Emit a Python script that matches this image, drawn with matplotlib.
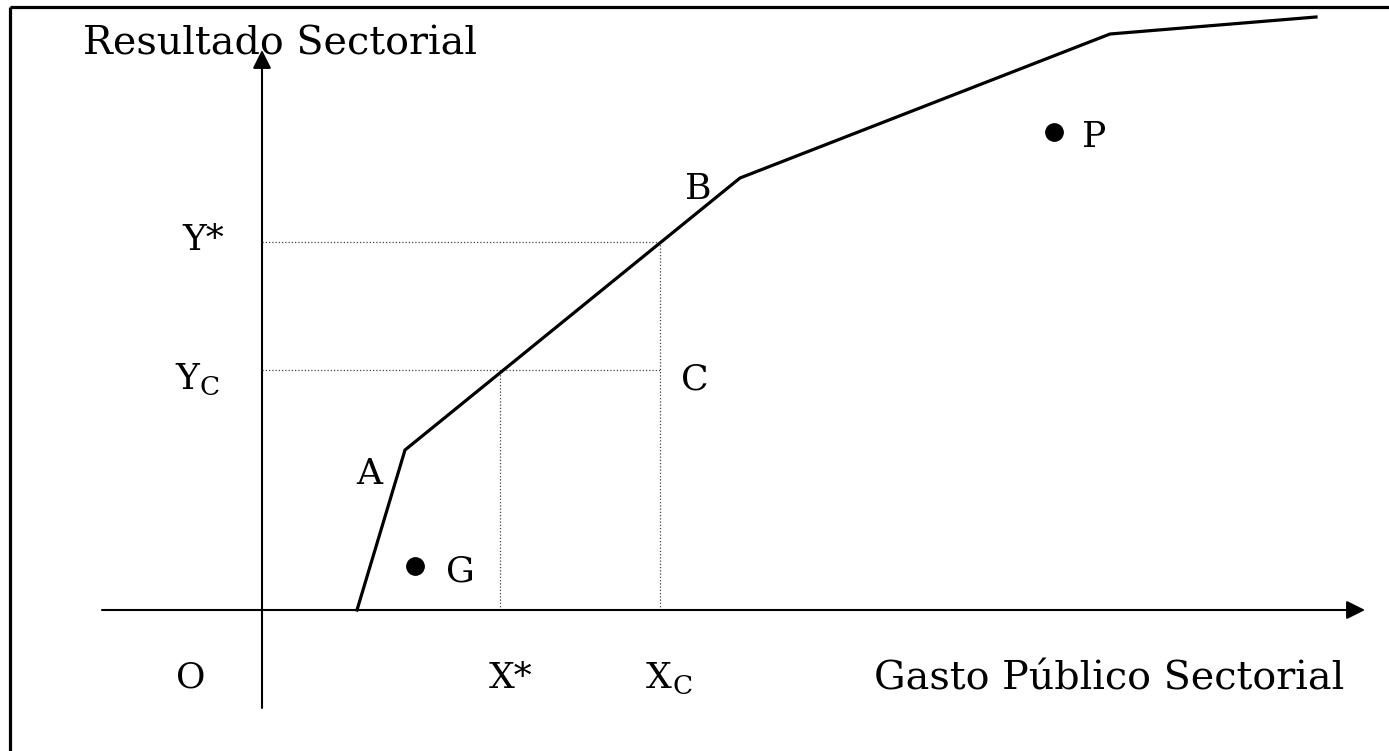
import matplotlib
matplotlib.use("Agg")
import matplotlib.pyplot as plt
from matplotlib.lines import Line2D

# ---- diagram data (origin at axis intersection, arbitrary units) ----
curve_x = [95, 143, 478, 848, 1054]
curve_y = [0, 160, 432, 576, 593]

x_star, x_c = 238, 398
y_star, y_c = 368, 240

point_G = (153, 44)
point_P = (792, 478)

x_axis_range = (-160, 1103)
y_axis_range = (-98, 560)

FONT = ["DejaVu Serif"]
FS = 26
FS_LONG = 28.5
SUB = 19

fig = plt.figure(figsize=(13.89, 7.51), dpi=100)
ax = fig.add_axes([0, 0, 1, 1])
ax.set_xlim(-262, 1389 - 262)
ax.set_ylim(610 - 751, 610)
ax.axis("off")

# frame (top and left border)
fig.add_artist(Line2D([10 / 1389, 1.0], [1 - 7 / 751, 1 - 7 / 751], color="black", lw=2.3,
                      transform=fig.transFigure, solid_capstyle="butt"))
fig.add_artist(Line2D([10 / 1389, 10 / 1389], [0.0, 1 - 7 / 751], color="black", lw=2.3,
                      transform=fig.transFigure, solid_capstyle="butt"))

# axes with arrows
arrow_kw = dict(arrowstyle="-|>", color="black", lw=1.5, mutation_scale=28,
                shrinkA=0, shrinkB=0)
ax.annotate("", xy=(x_axis_range[1], 0), xytext=(x_axis_range[0], 0), arrowprops=arrow_kw)
ax.annotate("", xy=(0, y_axis_range[1]), xytext=(0, y_axis_range[0]), arrowprops=arrow_kw)

# dotted guide lines
dot_kw = dict(color="#444444", lw=0.9, linestyle=(0, (1, 1.6)))
ax.plot([0, x_c], [y_star, y_star], **dot_kw)
ax.plot([x_c, x_c], [0, y_star], **dot_kw)
ax.plot([0, x_c], [y_c, y_c], **dot_kw)
ax.plot([x_star, x_star], [0, y_c], **dot_kw)

# frontier curve
ax.plot(curve_x, curve_y, color="black", lw=2.3, solid_joinstyle="miter")

# points
ax.plot(*point_G, "o", color="black", markersize=12.5)
ax.plot(*point_P, "o", color="black", markersize=12.5)


def label(x, y, s, size=FS, sub=None):
    t = ax.text(x, y, s, fontsize=size, family=FONT, ha="center", va="center", color="black")
    if sub:
        ax.annotate(sub, xy=(1, 0), xycoords=t, xytext=(0.5, -3), textcoords="offset points",
                    fontsize=SUB, family=FONT, ha="left", va="bottom", color="black")
    return t


label(18, 566, "Resultado Sectorial", size=FS_LONG)
label(-59, 370, "Y*")
label(-75, 231, "Y", sub="C")
label(107, 136, "A")
label(436, 421, "B")
label(433, 231, "C")
label(198, 38, "G")
label(832, 473, "P")
label(-71, -68, "O")
label(249, -68, "X*")
label(397, -68, "X", sub="C")
label(847, -69, "Gasto Público Sectorial", size=FS_LONG)

fig.savefig("out.png", dpi=100, facecolor="white")
